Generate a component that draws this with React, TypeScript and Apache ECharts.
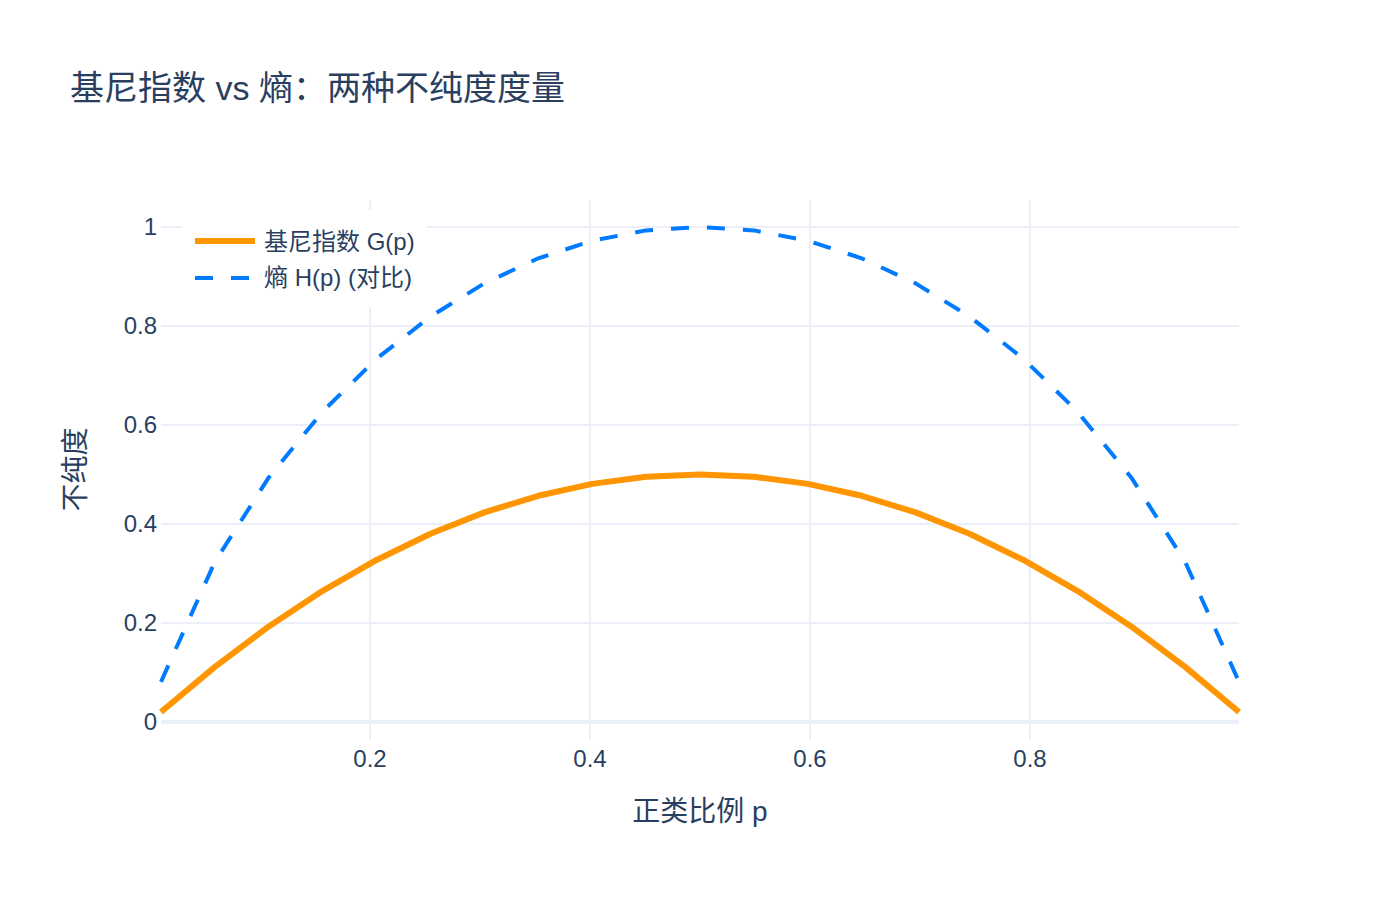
import { useEffect, useRef } from "react";
import * as echarts from "echarts";

const pValues = [
  0.01, 0.059, 0.108, 0.157, 0.206, 0.255, 0.304, 0.353, 0.402, 0.451, 0.5,
  0.549, 0.598, 0.647, 0.696, 0.745, 0.794, 0.843, 0.892, 0.941, 0.99
];
const giniValues = [
  0.0198, 0.111, 0.1927, 0.2647, 0.3271, 0.38, 0.4232, 0.4568, 0.4808, 0.4952, 0.5,
  0.4952, 0.4808, 0.4568, 0.4232, 0.38, 0.3271, 0.2647, 0.1927, 0.111, 0.0198
];
const entropyValues = [
  0.0808, 0.3235, 0.4939, 0.6271, 0.7338, 0.8191, 0.8861, 0.9367, 0.9721, 0.9931, 1.0,
  0.9931, 0.9721, 0.9367, 0.8861, 0.8191, 0.7338, 0.6271, 0.4939, 0.3235, 0.0808
];
const xTicks = [0.2, 0.4, 0.6, 0.8];
const yTicks = [0, 0.2, 0.4, 0.6, 0.8, 1];

const font = '"Liberation Sans", "Noto Sans CJK SC", sans-serif';
const ink = "#2a3f5f";
const gridColor = "#EBF0F8";

export default function App() {
  const ref = useRef<HTMLDivElement | null>(null);

  useEffect(() => {
    if (!ref.current) {
      return;
    }
    const instance = echarts.init(ref.current, undefined, { renderer: "svg" });
    const giniData = pValues.map((p, i) => [p, giniValues[i]]);
    const entropyData = pValues.map((p, i) => [p, entropyValues[i]]);

    instance.setOption({
      animation: false,
      backgroundColor: "#ffffff",
      textStyle: { fontFamily: font, color: ink },
      title: {
        text: "基尼指数 vs 熵：两种不纯度度量",
        left: 70,
        top: 71,
        padding: 0,
        textStyle: { fontFamily: font, color: ink, fontSize: 34, fontWeight: "normal" }
      },
      legend: {
        orient: "vertical",
        left: 182,
        top: 210,
        padding: [19, 12, 17, 10],
        itemWidth: 60,
        itemHeight: 24,
        itemGap: 13,
        backgroundColor: "#ffffff",
        itemStyle: { opacity: 0 },
        lineStyle: { width: "inherit", type: "inherit" },
        textStyle: { fontFamily: font, color: ink, fontSize: 24, padding: [0, 0, 0, 4] },
        data: ["基尼指数 G(p)", "熵 H(p) (对比)"]
      },
      grid: { left: 161, right: 161, top: 200, bottom: 161 },
      xAxis: {
        type: "value",
        min: 0.01,
        max: 0.99,
        name: "正类比例 p",
        nameLocation: "middle",
        nameGap: 58,
        nameTextStyle: { fontFamily: font, color: ink, fontSize: 28 },
        axisLine: { show: false },
        axisTick: { show: false, customValues: xTicks },
        axisLabel: {
          customValues: xTicks,
          margin: 7,
          fontSize: 24,
          fontFamily: font,
          color: ink
        },
        splitLine: { show: true, lineStyle: { color: gridColor, width: 2 } }
      },
      yAxis: {
        type: "value",
        min: -0.0347,
        max: 1.0545,
        name: "不纯度",
        nameLocation: "middle",
        nameGap: 72,
        nameTextStyle: { fontFamily: font, color: ink, fontSize: 28 },
        axisLine: { show: false },
        axisTick: { show: false, customValues: yTicks },
        axisLabel: {
          customValues: yTicks,
          margin: 4,
          fontSize: 24,
          fontFamily: font,
          color: ink
        },
        splitLine: { show: true, lineStyle: { color: gridColor, width: 2 } }
      },
      series: [
        {
          name: "基尼指数 G(p)",
          type: "line",
          data: giniData,
          showSymbol: false,
          symbol: "none",
          lineStyle: { color: "#ff9500", width: 6 },
          itemStyle: { color: "#ff9500" },
          z: 3,
          markLine: {
            silent: true,
            symbol: "none",
            label: { show: false },
            lineStyle: { color: gridColor, width: 4, type: "solid" },
            data: [{ yAxis: 0 }],
            z: 1
          }
        },
        {
          name: "熵 H(p) (对比)",
          type: "line",
          data: entropyData,
          showSymbol: false,
          symbol: "none",
          lineStyle: { color: "#007aff", width: 4, type: [18, 18] },
          itemStyle: { color: "#007aff" },
          z: 4
        }
      ]
    });

    return () => {
      instance.dispose();
    };
  }, []);

  return (
    <div
      ref={ref}
      style={{ position: "absolute", left: 0, top: 0, width: 1400, height: 900 }}
    />
  );
}
